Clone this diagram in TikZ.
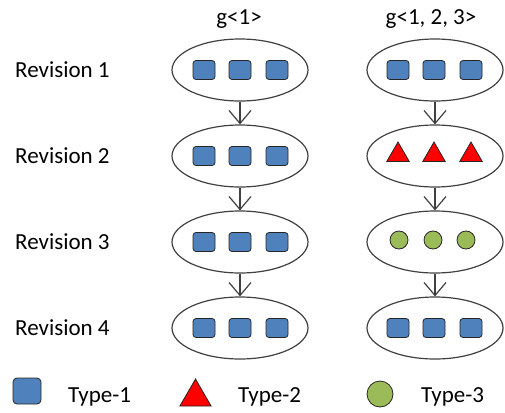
\documentclass[tikz,border=0pt]{standalone}
\usepackage{fontspec}
\setmainfont{Carlito}
\usetikzlibrary{shapes.geometric,arrows.meta}
\definecolor{blockblue}{HTML}{4F81BD}
\definecolor{leafgreen}{HTML}{9BBB59}
\definecolor{edgegray}{HTML}{404040}
\tikzset{
 rev/.style={draw=edgegray, line width=1.2pt, ellipse, minimum width=136pt, minimum height=62pt, inner sep=0pt},
 sq/.style={draw=black!85, fill=blockblue, rounded corners=3pt, minimum width=22pt, minimum height=19pt, inner sep=0pt, line width=0.8pt},
 tri/.style={draw=black!85, fill=red, regular polygon, regular polygon sides=3, minimum size=26pt, inner sep=0pt, line width=0.8pt},
 ball/.style={draw=black!85, fill=leafgreen, circle, minimum size=18pt, inner sep=0pt, line width=0.8pt},
 lbl/.style={anchor=base west, inner sep=0pt, font=\fontsize{23}{27}\selectfont},
 nxt/.style={draw=edgegray, line width=1.2pt, -{Straight Barb[length=13pt,width=22pt]}},
}
\begin{document}
\begin{tikzpicture}[x=1pt,y=-1pt]
\useasboundingbox (0,0) rectangle (505,412);
% column titles
\node[lbl, anchor=base] (t1) at (239,25) {g<1>};
\node[lbl, anchor=base] (t2) at (431,25) {g<1, 2, 3>};
% revision labels
\foreach \r/\y in {1/77,2/163,3/249,4/335}
  \node[lbl] (r\r) at (15,\y) {Revision \r};
% left column
\foreach \r/\y in {1/70,2/156,3/242,4/328}{
  \node[rev] (a\r) at (240,\y) {};
  \foreach \i/\x in {1/204,2/240,3/277}
    \node[sq] (a\r\i) at (\x,\y) {};
}
% right column
\node[rev] (b1) at (435,70) {};
\node[rev] (b2) at (435,156) {};
\node[rev] (b3) at (435,242) {};
\node[rev] (b4) at (435,328) {};
\foreach \i/\x in {1/398,2/434,3/471}{
  \node[sq] (b1\i) at (\x,70) {};
  \node[tri] (b2\i) at (\x,155) {};
  \node[sq] (b4\i) at (\x,328) {};
}
\foreach \i/\x in {1/399,2/433,3/466}
  \node[ball] (b3\i) at (\x,240) {};
% arrows
\draw[nxt] (a1) -- (a2);
\draw[nxt] (a2) -- (a3);
\draw[nxt] (a3) -- (a4);
\draw[nxt] (b1) -- (b2);
\draw[nxt] (b2) -- (b3);
\draw[nxt] (b3) -- (b4);
% legend
\node[sq, minimum width=28pt, minimum height=26pt, rounded corners=4pt] (k1) at (27,391) {};
\node[lbl] (k1t) at (68,402) {Type-1};
\node[tri, minimum size=36pt] (k2) at (195.5,397) {};
\node[lbl] (k2t) at (238,402) {Type-2};
\node[ball, minimum size=26pt] (k3) at (380,394) {};
\node[lbl] (k3t) at (421,402) {Type-3};
\end{tikzpicture}
\end{document}
